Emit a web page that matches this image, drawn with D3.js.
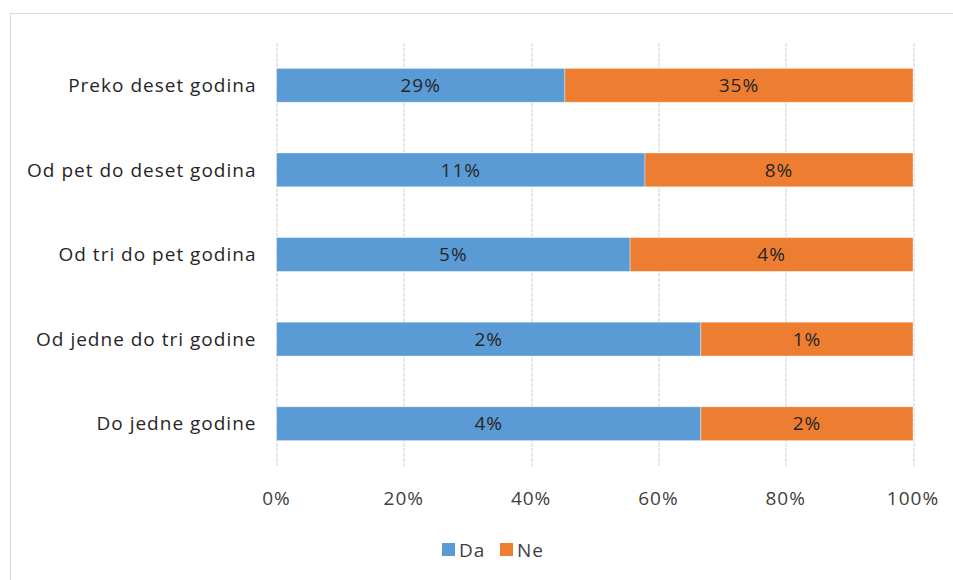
<!DOCTYPE html>
<html>
<head>
<meta charset="utf-8">
<script src="https://cdn.jsdelivr.net/npm/d3@7"></script>
<style>
  html, body { margin: 0; padding: 0; background: #fff; }
  svg text { font-family: "Open Sans", "DejaVu Sans", sans-serif; letter-spacing: 1px; }
</style>
</head>
<body>
<div id="chart"></div>
<script>
// Categories, top to bottom
const categories = ['Preko deset godina', 'Od pet do deset godina', 'Od tri do pet godina', 'Od jedne do tri godine', 'Do jedne godine'];
// Series values (percent shares shown as data labels)
const da = [29, 11, 5, 2, 4];
const ne = [35, 8, 4, 1, 2];
const seriesNames = ['Da', 'Ne'];
const seriesColors = ['#5b9bd5', '#ed7d31'];
const xTicks = [0, 0.2, 0.4, 0.6, 0.8, 1];

const width = 953, height = 580;
const margin = { top: 43, right: 40, bottom: 114, left: 276.5 };
const innerW = 913 - margin.left;
const innerH = height - margin.top - margin.bottom;
const fs = 19;

const svg = d3.select('#chart').append('svg')
  .attr('width', width)
  .attr('height', height);

// chart area frame (right/bottom fall outside the picture)
svg.append('rect')
  .attr('x', 10.5).attr('y', 13.5)
  .attr('width', 1000).attr('height', 1000)
  .attr('fill', 'none')
  .attr('stroke', '#d9d9d9');

const g = svg.append('g').attr('transform', `translate(${margin.left},${margin.top})`);

const rows = categories.map((c, i) => {
  const total = da[i] + ne[i];
  return { cat: c, vals: [da[i], ne[i]], shares: [da[i] / total, ne[i] / total] };
});

const x = d3.scaleLinear().domain([0, 1]).range([0, innerW]);
const y = d3.scaleBand().domain(categories).range([0, innerH]).paddingInner(0.6).paddingOuter(0.3);

// gridlines
g.selectAll('line.grid')
  .data(xTicks)
  .join('line')
  .attr('class', 'grid')
  .attr('x1', d => Math.round(x(d)) + 0.5)
  .attr('x2', d => Math.round(x(d)) + 0.5)
  .attr('y1', 0)
  .attr('y2', innerH)
  .attr('stroke', '#d9d9d9')
  .attr('stroke-width', 1.2)
  .attr('stroke-dasharray', '4,1');

// stacked segments
const segs = [];
rows.forEach(r => {
  let acc = 0;
  r.shares.forEach((s, k) => {
    segs.push({ cat: r.cat, k, x0: acc, x1: acc + s, val: r.vals[k] });
    acc += s;
  });
});

g.selectAll('rect.seg')
  .data(segs)
  .join('rect')
  .attr('class', 'seg')
  .attr('x', d => x(d.x0))
  .attr('y', d => y(d.cat))
  .attr('width', d => x(d.x1) - x(d.x0))
  .attr('height', y.bandwidth())
  .attr('fill', d => seriesColors[d.k])
  .attr('stroke', '#ffffff')
  .attr('stroke-opacity', 0.5)
  .attr('stroke-width', 0.75);

// data labels
g.selectAll('text.lbl')
  .data(segs)
  .join('text')
  .attr('class', 'lbl')
  .attr('x', d => x((d.x0 + d.x1) / 2))
  .attr('y', d => y(d.cat) + y.bandwidth() / 2)
  .attr('dy', '0.35em')
  .attr('text-anchor', 'middle')
  .attr('fill', '#262626')
  .attr('font-size', fs)
  .text(d => d.val + '%');

// y axis labels
g.selectAll('text.cat')
  .data(categories)
  .join('text')
  .attr('class', 'cat')
  .attr('x', -20)
  .attr('y', d => y(d) + y.bandwidth() / 2)
  .attr('dy', '0.35em')
  .attr('text-anchor', 'end')
  .attr('fill', '#262626')
  .attr('font-size', fs)
  .text(d => d);

// x axis tick labels
g.selectAll('text.xt')
  .data(xTicks)
  .join('text')
  .attr('class', 'xt')
  .attr('x', d => x(d))
  .attr('y', innerH + 32)
  .attr('dy', '0.35em')
  .attr('text-anchor', 'middle')
  .attr('fill', '#404040')
  .attr('font-size', fs)
  .text(d3.format('.0%'));

// legend
const legendX = [442, 500];
const leg = svg.append('g').attr('transform', 'translate(0,550)');
seriesNames.forEach((n, k) => {
  leg.append('rect')
    .attr('x', legendX[k]).attr('y', -7)
    .attr('width', 13).attr('height', 13)
    .attr('fill', seriesColors[k]);
  leg.append('text')
    .attr('x', legendX[k] + 17).attr('y', 0)
    .attr('dy', '0.35em')
    .attr('fill', '#404040')
    .attr('font-size', fs)
    .text(n);
});
</script>
</body>
</html>
